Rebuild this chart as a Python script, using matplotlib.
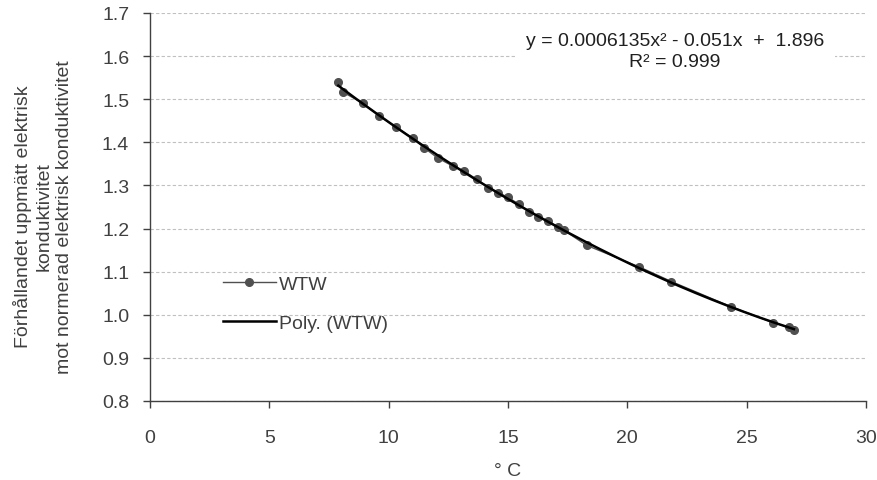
import numpy as np
import matplotlib.pyplot as plt

temp = [7.89, 8.10, 8.91, 9.61, 10.31, 11.00, 11.49, 12.05, 12.68, 13.17,
        13.69, 14.18, 14.60, 14.98, 15.47, 15.89, 16.27, 16.69, 17.10, 17.34,
        18.30, 20.50, 21.85, 24.33, 26.09, 26.78, 26.98]
ratio = [1.541, 1.516, 1.491, 1.461, 1.435, 1.410, 1.387, 1.364, 1.345, 1.333,
         1.314, 1.295, 1.283, 1.273, 1.256, 1.239, 1.227, 1.217, 1.204, 1.196,
         1.161, 1.111, 1.077, 1.019, 0.982, 0.971, 0.965]

x_ticks = [0, 5, 10, 15, 20, 25, 30]
y_ticks = [0.8, 0.9, 1.0, 1.1, 1.2, 1.3, 1.4, 1.5, 1.6, 1.7]

series_name = "WTW"
trend_name = "Poly. (WTW)"
eq_text = "y = 0.0006135x\u00b2 - 0.051x  +  1.896\nR\u00b2 = 0.999"
y_label = ("F\u00f6rh\u00e5llandet uppm\u00e4tt elektrisk\nkonduktivitet\n"
           "mot normerad elektrisk konduktivitet")
x_label = "\u00b0 C"

plt.rcParams['font.family'] = ['Liberation Sans', 'DejaVu Sans']
plt.rcParams['font.size'] = 14
txt_col = '#404040'

fig = plt.figure(figsize=(8.77, 4.81), dpi=100)
ax = fig.add_axes([150 / 877, 1 - 402 / 481, 716 / 877, 388 / 481])

# Polynom 2. Grades (Trendlinie)
coef = np.polyfit(temp, ratio, 2)
xs = np.linspace(min(temp), max(temp), 200)

ax.plot(temp, ratio, color='#505050', lw=1.0, marker='o', ms=5.5,
        mfc='#505050', mec='#505050', label=series_name, zorder=3)
ax.plot(xs, np.polyval(coef, xs), color='black', lw=1.8, label=trend_name, zorder=4)

ax.set_xlim(0, 30)
ax.set_ylim(0.8, 1.7)
ax.set_xticks(x_ticks)
ax.set_yticks(y_ticks)
ax.set_yticklabels([f"{v:.1f}" for v in y_ticks])
ax.yaxis.grid(True, linestyle=(0, (3, 2)), color='#c0c0c0', lw=0.8)
ax.set_axisbelow(True)

for s in ['top', 'right']:
    ax.spines[s].set_visible(False)
for s in ['left', 'bottom']:
    ax.spines[s].set_color('#404040')
    ax.spines[s].set_linewidth(1.0)
ax.tick_params(axis='both', colors='#404040', labelcolor=txt_col,
               direction='out', length=5, width=1.0)
ax.tick_params(axis='x', pad=15)
ax.tick_params(axis='y', pad=10)

# Achsentitel
fig.text(43 / 877, 1 - 217 / 481, y_label, rotation=90, ha='center', va='center',
         multialignment='center', color=txt_col, linespacing=1.25)
fig.text(508 / 877, 1 - 463 / 481, x_label, ha='center', va='top', color=txt_col)

# Gleichung der Trendlinie, x-Position in Datenkoordinaten
ax.text((675 - 150) / 716 * 30, 1.612, eq_text, ha='center', va='center',
        color='#202020', linespacing=1.25,
        bbox=dict(facecolor='white', edgecolor='none', pad=8))

leg = ax.legend(loc='center left', bbox_to_anchor=(0.077, 0.252), frameon=False,
                handlelength=2.75, handletextpad=0.15, labelspacing=1.1)
for t in leg.get_texts():
    t.set_color(txt_col)

fig.savefig("out.png", dpi=100)
